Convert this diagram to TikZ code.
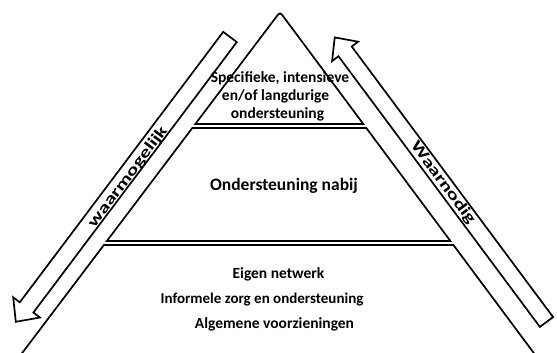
\documentclass[tikz,border=0pt]{standalone}
\usepackage{fontspec}
\setmainfont{Carlito}
\begin{document}
\begin{tikzpicture}[x=1pt,y=-1pt,
  outline/.style={draw=black,line width=1.7pt,line join=miter},
  lbl/.style={font=\bfseries\fontsize{15.5}{18}\selectfont,anchor=base,inner sep=0pt},
  arrlbl/.style={font=\bfseries\fontsize{15.5}{16}\selectfont,inner sep=0pt}]
\fill[white] (0,0) rectangle (557,353);
\useasboundingbox (0,0) rectangle (557,353);
% pyramid
\draw[outline] (195.3,124) [rounded corners=3pt] -- (280,12) [sharp corners] -- (363.3,124) -- cycle;
\draw[outline] (192.3,128) -- (366.3,128) -- (450.4,241) -- (106.9,241) -- cycle;
\draw[outline] (19.9,356) -- (103.9,245) -- (453.4,245) -- (536.0,356);
% left arrow (down-left)
\draw[outline] (236.8,42.1) -- (33.4,312.5) -- (40.0,317.5) -- (15.8,321.8) -- (13.2,297.3) -- (19.8,302.3) -- (223.2,31.9) -- cycle;
% right arrow (up-left)
\draw[outline] (553.1,317.1) -- (351.7,46.5) -- (358.1,41.7) -- (334.7,37.4) -- (332.1,61.1) -- (338.5,56.3) -- (539.9,326.9) -- cycle;
% texts
\node[lbl] (t1) at (280,82) {Specifieke, intensieve};
\node[lbl] (t2) at (275.5,100) {en/of langdurige};
\node[lbl] (t3) at (277.5,118) {ondersteuning};
\node[lbl,font=\bfseries\fontsize{17.5}{20}\selectfont] (m1) at (284,190) {Ondersteuning nabij};
\node[lbl] (b1) at (278.5,278) {Eigen netwerk};
\node[lbl,font=\bfseries\fontsize{15}{18}\selectfont] (b2) at (262,303) {Informele zorg en ondersteuning};
\node[lbl] (b3) at (274.5,328) {Algemene voorzieningen};
\node[arrlbl,rotate=53.1] (la) at (128,177) {\scalebox{1.4}[1]{waarmogelijk}};
\node[arrlbl,rotate=-53.4] (ra) at (443,183) {\scalebox{1.4}[1]{Waarnodig}};
\end{tikzpicture}
\end{document}
